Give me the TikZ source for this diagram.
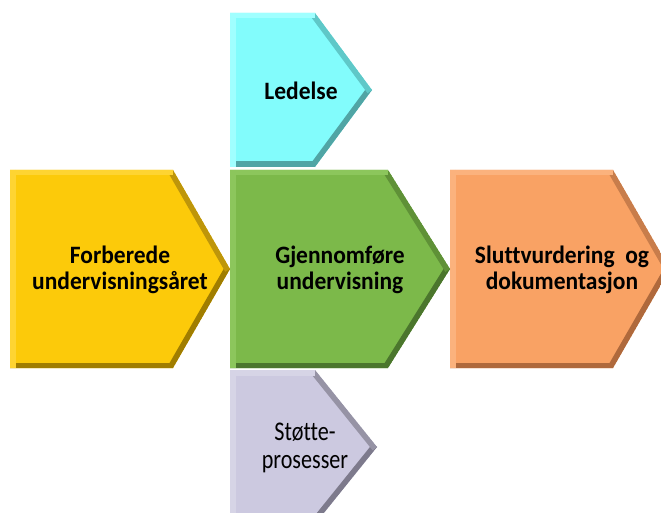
\documentclass[tikz,border=0pt]{standalone}
\usepackage{fontspec}
\setmainfont[Ligatures=NoCommon]{Carlito}
\newfontfamily\boldnarrow[Ligatures=NoCommon,FakeStretch=0.94]{Carlito}
\newfontfamily\regnarrow[Ligatures=NoCommon,FakeStretch=0.82]{Carlito}
\tikzset{
  lbl/.style={align=center, font=\boldnarrow\bfseries\fontsize{25}{26}\selectfont, text=black, inner sep=0pt},
  lblr/.style={align=center, font=\regnarrow\fontsize{27}{28}\selectfont, text=black, inner sep=0pt},
}
% #1 L, #2 T, #3 shoulder, #4 tip, #5 B, #6 fill, #7 light, #8 dark slant, #9 darker
\newcommand\mychev[9]{%
  \pgfmathsetmacro\mym{(#2+#5)/2}%
  \begin{scope}
    \clip (#1,#2) -- (#3,#2) -- (#4,\mym) -- (#3,#5) -- (#1,#5) -- cycle;
    \fill[#6] (#1,#2) -- (#3,#2) -- (#4,\mym) -- (#3,#5) -- (#1,#5) -- cycle;
    \draw[line width=11pt, #9] (#1,#5) -- (#3,#5);
    \draw[line width=11pt, #9] (#3,#5) -- (#4,\mym);
    \draw[line width=11pt, #8] (#3,#2) -- (#4,\mym);
    \draw[line width=11pt, #7] (#1,#2) -- (#3,#2);
    \draw[line width=11pt, #7] (#1,#2) -- (#1,#5);
  \end{scope}}
\begin{document}
\begin{tikzpicture}[x=1pt,y=-1pt]
\useasboundingbox (0,0) rectangle (661,513);
\fill[white] (0,0) rectangle (661,513);
% Ledelse
\mychev{230}{13}{315}{372}{167}{fill={rgb,255:red,130;green,252;blue,252}}{draw={rgb,255:red,160;green,255;blue,255}}{draw={rgb,255:red,95;green,200;blue,200}}{draw={rgb,255:red,80;green,165;blue,165}}
% Forberede
\mychev{10}{170}{173}{230}{368}{fill={rgb,255:red,252;green,202;blue,10}}{draw={rgb,255:red,254;green,212;blue,50}}{draw={rgb,255:red,190;green,150;blue,10}}{draw={rgb,255:red,160;green,125;blue,0}}
% Sluttvurdering
\mychev{450}{170}{613}{670}{368}{fill={rgb,255:red,249;green,162;blue,100}}{draw={rgb,255:red,251;green,178;blue,125}}{draw={rgb,255:red,200;green,125;blue,75}}{draw={rgb,255:red,175;green,105;blue,60}}
% Gjennomfore
\mychev{230}{170}{388}{450}{368}{fill={rgb,255:red,124;green,185;blue,74}}{draw={rgb,255:red,140;green,198;blue,92}}{draw={rgb,255:red,95;green,145;blue,55}}{draw={rgb,255:red,75;green,118;blue,45}}
% Stotte
\mychev{230}{370}{315}{377}{524}{fill={rgb,255:red,204;green,201;blue,224}}{draw={rgb,255:red,214;green,212;blue,230}}{draw={rgb,255:red,150;green,147;blue,165}}{draw={rgb,255:red,125;green,122;blue,140}}
\node[lbl] (led) at (301,91) {Ledelse};
\node[lbl] (forb) at (120,270) {Forberede\\undervisningsåret};
\node[lbl] (gjen) at (340,270) {Gjennomføre\\undervisning};
\node[lbl] (slutt) at (562,270) {Sluttvurdering\ \ og\\dokumentasjon};
\node[lblr] (stotte) at (305,448) {Støtte-\\prosesser};
\end{tikzpicture}
\end{document}
